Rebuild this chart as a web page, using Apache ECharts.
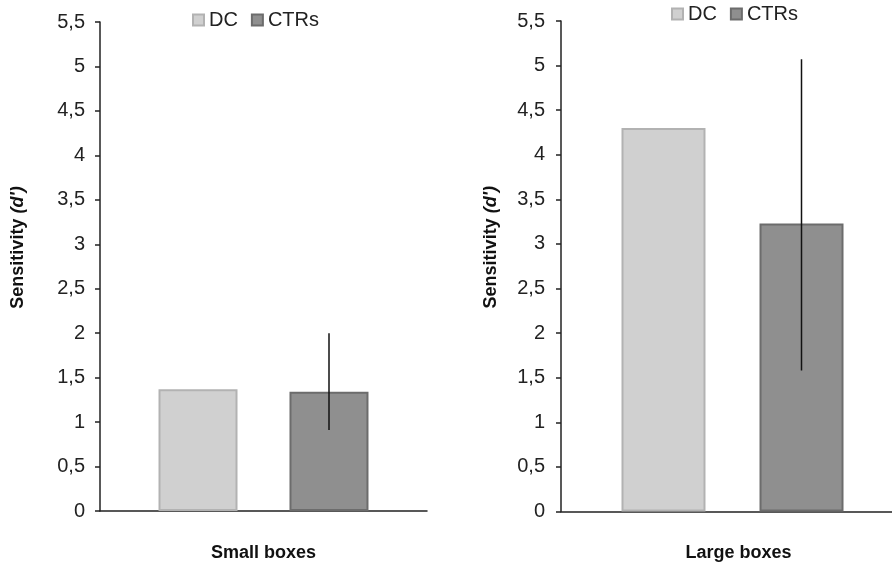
<!DOCTYPE html>
<html>
<head>
<meta charset="utf-8">
<script src="https://cdn.jsdelivr.net/npm/echarts@6/dist/echarts.min.js"></script>
<style>
  html, body { margin: 0; padding: 0; background: #fff; }
  #main { width: 892px; height: 567px; }
</style>
</head>
<body>
<div id="main"></div>
<script>
// data
var categories = ["Small boxes", "Large boxes"];
var dcValues = [1.37, 4.30];
var ctrValues = [1.34, 3.23];
var ctrErrLow = [0.91, 1.58];
var ctrErrHigh = [2.0, 5.07];
var yMin = 0, yMax = 5.5, yStep = 0.5;

var FONT = "'Liberation Sans', Arial, sans-serif";
var DC_FILL = "#d0d0d0", DC_EDGE = "#b2b2b2";
var CT_FILL = "#8f8f8f", CT_EDGE = "#6c6c6c";

// bar width / gap per panel (px)
var barW = [79, 84];
var gapPx = [52, 54];

var myChart = echarts.init(document.getElementById("main"));

function yAxisFor(i, gap, lblMargin) {
  return {
    type: "value",
    gridIndex: i,
    min: yMin,
    max: yMax,
    interval: yStep,
    name: "{a|Sensitivity }{b|(d')}",
    nameLocation: "middle",
    nameRotate: 90,
    nameGap: gap,
    nameTextStyle: {
      rich: {
        a: { fontFamily: FONT, fontSize: 18, fontWeight: "bold", color: "#111" },
        b: { fontFamily: FONT, fontSize: 18, fontWeight: "bold", fontStyle: "italic", color: "#111" }
      },
      padding: [0, 0, 0, 38]
    },
    axisLine: { show: true, lineStyle: { color: "#222", width: 1.5 } },
    axisTick: { show: true, inside: false, length: 5, lineStyle: { color: "#222", width: 1.5 } },
    splitLine: { show: false },
    axisLabel: {
      fontFamily: FONT,
      fontSize: 20,
      color: "#222",
      margin: lblMargin,
      formatter: function (v) { return String(v).replace(".", ","); }
    }
  };
}

function xAxisFor(i, padL) {
  return {
    type: "category",
    gridIndex: i,
    data: [categories[i]],
    axisLine: { show: true, onZero: false, lineStyle: { color: "#222", width: 1.5 } },
    axisTick: { show: false },
    axisLabel: {
      fontFamily: FONT,
      fontSize: 18,
      fontWeight: "bold",
      color: "#111",
      margin: 33,
      padding: [0, 0, 0, padL]
    }
  };
}

function barSeries(name, i, val, fill, edge) {
  return {
    name: name,
    type: "bar",
    xAxisIndex: i,
    yAxisIndex: i,
    barWidth: barW[i],
    barGap: (gapPx[i] / barW[i] * 100).toFixed(1) + "%",
    itemStyle: { color: fill, borderColor: edge, borderWidth: 2 },
    data: [val]
  };
}

function errSeries(i) {
  var off = (barW[i] + gapPx[i]) / 2;
  return {
    type: "custom",
    xAxisIndex: i,
    yAxisIndex: i,
    z: 5,
    silent: true,
    renderItem: function (params, api) {
      var top = api.coord([api.value(0), api.value(2)]);
      var bot = api.coord([api.value(0), api.value(1)]);
      var x = top[0] + off;
      return {
        type: "line",
        shape: { x1: x, y1: top[1], x2: x, y2: bot[1] },
        style: { stroke: "#111", lineWidth: 1.5 }
      };
    },
    data: [[0, ctrErrLow[i], ctrErrHigh[i]]]
  };
}

function legendFor(left, top) {
  return {
    left: left,
    top: top,
    padding: 0,
    icon: "rect",
    itemWidth: 11,
    itemHeight: 11,
    itemGap: 13,
    selectedMode: false,
    data: ["DC", "CTRs"],
    textStyle: { fontFamily: FONT, fontSize: 20, color: "#222" }
  };
}

var option = {
  backgroundColor: "#fff",
  animation: false,
  legend: [legendFor(192, 10), legendFor(671, 4)],
  grid: [
    { left: 100, width: 327, top: 22, bottom: 56, outerBoundsMode: "none" },
    // the right panel's axis runs past the window edge in the figure
    { left: 561, width: 343, top: 21, bottom: 55.5, outerBoundsMode: "none" }
  ],
  xAxis: [xAxisFor(0, 0), xAxisFor(1, 12)],
  yAxis: [yAxisFor(0, 73, 15), yAxisFor(1, 61, 16)],
  series: [
    barSeries("DC", 0, dcValues[0], DC_FILL, DC_EDGE),
    barSeries("CTRs", 0, ctrValues[0], CT_FILL, CT_EDGE),
    errSeries(0),
    barSeries("DC", 1, dcValues[1], DC_FILL, DC_EDGE),
    barSeries("CTRs", 1, ctrValues[1], CT_FILL, CT_EDGE),
    errSeries(1)
  ]
};

myChart.setOption(option);
window.onresize = myChart.resize;
</script>
</body>
</html>
